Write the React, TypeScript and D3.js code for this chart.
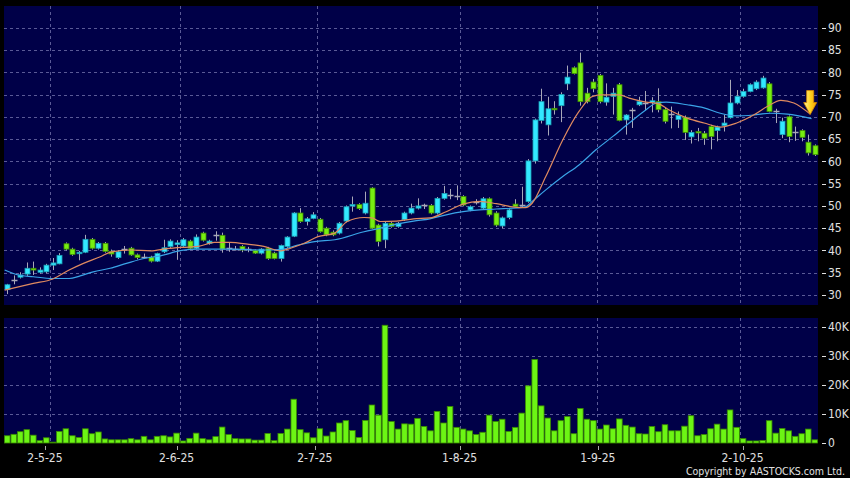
import React, { useEffect } from "react";
import * as d3 from "d3";

// ---------- data ----------
const opens = [31.2,33.4,34.0,34.7,36.0,35.1,35.2,36.7,37.0,41.5,40.3,39.3,39.6,42.5,40.5,41.6,39.8,38.4,40.3,40.5,39.0,38.6,38.5,37.6,39.7,
  40.9,41.3,41.0,42.1,40.5,43.9,41.6,43.5,43.4,40.5,40.4,40.9,40.3,40.0,39.4,40.5,39.4,38.2,40.9,43.2,48.4,46.5,47.2,47.0,45.0,
  44.1,43.9,46.6,50.0,50.3,48.4,54.0,45.7,42.4,46.1,45.4,46.9,48.4,49.5,50.1,50.1,48.4,51.7,52.5,52.1,52.1,49.1,50.8,49.5,51.6,
  48.4,45.5,47.4,50.4,50.2,51.0,60.1,69.2,68.2,71.9,72.5,77.4,81.0,82.1,75.3,77.8,79.3,73.3,74.6,77.2,69.3,71.6,72.7,73.0,73.2,
  73.4,71.6,70.6,69.4,69.9,65.5,66.7,66.3,67.8,66.9,68.0,69.8,73.1,74.6,75.7,76.3,76.5,77.4,71.2,66.0,70.0,66.7,66.9,64.3,63.5];
const highs = [32.5,34.4,35.1,37.3,37.5,36.2,37.0,38.3,39.4,41.8,40.6,39.9,43.5,42.8,41.9,41.9,40.2,40.0,41.0,40.8,39.3,39.3,38.8,39.5,42.4,
  42.5,42.3,42.8,42.4,43.6,44.2,42.4,44.3,44.0,41.8,41.0,41.2,40.8,40.2,40.5,40.8,39.7,41.3,43.2,48.6,49.5,47.5,48.6,47.3,45.3,
  44.5,46.4,50.1,52.1,50.6,53.2,54.2,46.0,46.4,46.4,46.4,48.7,50.5,51.7,50.5,50.4,52.0,54.5,53.8,54.6,52.4,50.1,51.5,52.0,51.9,
  48.8,47.6,49.4,51.5,54.3,60.5,69.6,76.3,74.5,73.5,75.5,81.5,81.3,84.4,76.5,78.5,79.6,77.5,76.5,77.6,70.6,72.0,74.5,75.8,74.4,
  76.4,72.0,72.3,71.2,70.3,67.0,67.5,66.8,68.2,68.0,70.5,78.3,76.0,76.3,77.5,78.2,79.2,77.8,71.8,69.8,70.3,67.8,67.2,66.0,63.8];
const lows = [30.2,32.4,33.7,34.3,34.5,34.8,34.9,35.6,36.9,40.0,38.8,37.8,39.4,40.2,40.2,39.5,38.6,38.1,39.3,38.8,38.0,38.2,37.3,37.4,39.4,
  40.6,37.9,40.8,40.2,40.3,42.0,41.3,42.2,39.5,39.7,40.0,39.6,39.6,39.2,39.1,37.9,38.0,37.5,40.6,43.0,46.2,45.6,47.0,44.0,43.2,
  43.2,43.6,46.3,48.7,49.1,48.1,44.8,40.9,40.5,45.1,45.1,46.6,48.1,49.2,49.3,48.1,48.1,51.4,51.5,51.3,49.9,48.8,50.3,49.2,47.6,
  45.3,45.0,47.0,49.8,49.8,50.7,59.5,68.5,65.8,70.5,68.8,76.0,79.5,72.5,73.0,75.5,73.0,72.5,70.5,69.0,66.0,67.5,72.4,71.5,71.0,
  71.0,68.5,67.4,67.5,64.8,64.0,64.5,63.7,62.7,64.5,66.7,69.6,72.8,74.3,75.5,76.0,76.3,71.0,68.6,65.2,64.3,64.6,64.5,61.3,61.2];
const closes = [32.3,33.4,34.5,36.0,35.6,35.6,36.7,37.2,38.9,40.3,39.1,39.6,42.5,40.5,41.6,39.8,39.2,39.7,40.3,39.0,38.4,38.6,37.6,39.3,40.6,
  42.1,41.7,42.4,40.5,43.0,42.3,42.1,43.5,40.3,40.5,40.4,40.1,40.3,39.4,40.3,38.2,38.2,41.1,43.0,48.4,46.5,47.1,48.0,44.2,43.5,
  43.5,46.1,49.8,50.3,49.4,50.6,45.0,42.0,46.1,45.4,46.1,48.4,49.5,50.0,50.1,48.4,51.7,52.8,52.5,52.2,50.2,49.8,50.8,51.6,48.0,
  45.7,47.3,49.1,49.9,50.2,60.1,69.3,73.4,71.8,71.7,75.0,78.9,79.7,73.4,73.4,76.3,73.4,74.4,75.3,69.2,70.4,71.6,73.4,73.0,73.6,
  71.6,69.0,70.6,70.3,66.5,66.5,66.5,65.2,65.6,67.7,68.6,73.1,74.6,75.7,77.2,77.8,78.7,71.2,71.2,69.0,65.6,66.7,65.4,61.9,61.5];
const volumesK = [2.5,3.0,3.9,4.6,2.7,0.8,1.8,0.3,4.0,4.9,2.5,1.9,4.9,3.2,3.8,1.4,1.1,1.1,1.1,1.5,1.1,2.3,1.1,2.3,2.5,2.1,3.4,0.7,1.6,3.4,
  1.5,1.1,2.2,5.5,2.9,1.5,1.4,1.4,1.0,1.0,3.3,0.8,3.3,4.8,15.1,4.6,3.5,1.8,4.9,2.4,3.8,6.9,7.7,4.3,1.9,7.8,13.1,9.6,40.6,7.4,
  4.8,6.6,6.5,8.5,5.7,4.2,10.9,6.9,12.6,5.4,4.8,4.2,2.9,3.7,9.6,7.4,8.2,4.0,5.4,10.3,19.7,28.8,12.8,8.6,4.2,7.7,9.1,3.2,11.9,8.2,
  7.7,4.8,6.2,4.9,8.3,6.1,5.5,3.2,3.1,5.7,3.9,6.3,4.2,4.2,5.8,9.4,2.5,2.9,4.9,6.5,4.8,11.4,5.4,1.5,0.7,0.7,0.9,7.7,3.4,5.0,4.2,2.3,3.2,4.8,1.1];

// moving averages: [bar index, value]
const maShort: [number, number][] = [[-0.4,31.1],[4,32.6],[7,33.6],[9.5,35.6],[11.7,37.1],[14.3,38.6],[16,39.7],[19,40.1],[22,39.9],[24.5,40.4],
  [27,40.7],[29.3,40.9],[31.8,41.8],[34.3,41.8],[36.9,41.4],[39.4,40.9],[42,39.9],[43.5,40.5],[45.6,41.6],[47.7,43.1],[50.3,43.9],
  [52.2,46.5],[54.8,47.4],[56,47.3],[57.3,46.5],[59.8,46.6],[62.4,47.1],[64.9,47.3],[67.4,48.7],[70,50.4],[72.5,51.0],[75.1,50.5],
  [77.6,49.8],[79.6,49.6],[80.6,50.6],[82.7,56.6],[85.3,64.8],[87.8,71.2],[89.9,74.6],[91.4,74.9],[94,74.9],[95.5,74.2],[98.1,73.3],
  [100,72.9],[101.8,71.4],[104.4,69.7],[107,68.6],[109.5,67.7],[112,68.6],[114.6,70.4],[116.7,72.3],[118.8,73.7],[120.8,73.1],[123.3,70.6]];
const maLong: [number, number][] = [[-0.4,35.6],[1.4,34.6],[4,34.1],[7,33.7],[9.5,33.7],[11.2,34.3],[13.2,35.2],[15.8,36.0],[18.3,37.1],
  [21,38.2],[23.5,38.8],[26.8,40.0],[29.3,40.3],[34.3,40.3],[39.4,40.1],[42,40.2],[44.6,41.2],[47.2,42.0],[50.3,42.4],[54.8,44.2],
  [57.3,45.0],[59.8,45.9],[62.4,46.6],[64.9,47.1],[67.4,48.0],[70,48.7],[72.5,49.1],[75.1,49.3],[79.6,49.8],[80.6,51.0],[82.7,53.6],
  [85.3,56.6],[87.8,59.2],[90.4,62.6],[93,65.6],[95.5,68.6],[98.1,71.6],[99.7,73.1],[101.2,73.3],[104.4,72.7],[107,72.0],[109.5,70.8],
  [112,70.2],[114.6,70.4],[117.2,70.8],[119.8,70.6],[123.5,69.6]];

const priceTicks = [30,35,40,45,50,55,60,65,70,75,80,85,90];
const volTicks = [0,10,20,30,40];
const volTickLabels = ["0","10K","20K","30K","40K"];
const dateIdx = [6,26,47,69,90,112];
const dateLabels = ["2-5-25","2-6-25","2-7-25","1-8-25","1-9-25","2-10-25"];
const arrowAt = { index: 123.3, price: 70.5 };

// ---------- styles ----------
const BG = "#000048";
const GRID = "#5a5a96";
const UP = "#33e8ff", UP_S = "#1a9fb5";
const DN = "#77ee11", DN_S = "#3f8f00";
const WICK = "#a8a8b8";
const TXT = "#e0e0e0";
const FONT = "'DejaVu Sans', sans-serif";

export default function App() {
  useEffect(() => { document.body.style.margin = "0"; document.body.style.background = "#000"; }, []);
  const W = 850, H = 478;
  const L = 4, R = 818;
  const pTop = 6, pBot = 305, vTop = 318, vBot = 443;
  const n = closes.length;
  const x = d3.scaleLinear().domain([-0.5, n - 0.5]).range([L, R]);
  const xl = d3.scaleLinear().domain([0, n - 1]).range([5.5, 821.5]);
  const y = d3.scaleLinear().domain([30, 90]).range([295, 27.7]);
  const yv = d3.scaleLinear().domain([0, 40]).range([vBot, 327]);
  const bw = 5;
  const line = d3.line<[number, number]>().x(d => x(d[0])).y(d => y(d[1])).curve(d3.curveMonotoneX);

  const ax = x(arrowAt.index), ay = y(arrowAt.price);

  return (
    <svg width={W} height={H} style={{ display: "block", position: "absolute", left: 0, top: 0, background: "#000" }}
      fontFamily={FONT}>
      <defs>
        <linearGradient id="arr" x1="0" x2="1" y1="0" y2="0">
          <stop offset="0" stopColor="#fff3a0" />
          <stop offset="0.5" stopColor="#ffd21f" />
          <stop offset="1" stopColor="#f0a000" />
        </linearGradient>
      </defs>
      <rect x={0} y={0} width={W} height={H} fill="#000" />
      <rect x={L} y={pTop} width={R - L} height={pBot - pTop} fill={BG} />
      <rect x={L} y={vTop} width={R - L} height={vBot - vTop} fill={BG} />

      {/* price grid */}
      {priceTicks.map(t => (
        <g key={"pg" + t}>
          <line x1={L} x2={R} y1={Math.round(y(t)) + 0.5} y2={Math.round(y(t)) + 0.5} stroke={GRID} strokeDasharray="3,3" />
          <line x1={R + 4} x2={R + 8} y1={Math.round(y(t)) + 0.5} y2={Math.round(y(t)) + 0.5} stroke={TXT} />
          <text x={R + 10} y={y(t)} dy="0.36em" fill={TXT} fontSize={12} style={{ fontStretch: "condensed" }}>{t}</text>
        </g>
      ))}
      {dateIdx.map(i => (
        <g key={"vg" + i}>
          <line x1={Math.round(x(i + 0.5)) + 0.5} x2={Math.round(x(i + 0.5)) + 0.5} y1={pTop} y2={pBot} stroke={GRID} strokeDasharray="3,3" />
          <line x1={Math.round(x(i + 0.5)) + 0.5} x2={Math.round(x(i + 0.5)) + 0.5} y1={vTop} y2={vBot} stroke={GRID} strokeDasharray="3,3" />
        </g>
      ))}

      {/* volume grid */}
      {volTicks.map((t, k) => (
        <g key={"vt" + t}>
          {t > 0 && <line x1={L} x2={R} y1={Math.round(yv(t)) + 0.5} y2={Math.round(yv(t)) + 0.5} stroke={GRID} strokeDasharray="3,3" />}
          <line x1={R + 4} x2={R + 8} y1={Math.round(yv(t)) + 0.5} y2={Math.round(yv(t)) + 0.5} stroke={TXT} />
          <text x={R + 10} y={yv(t)} dy="0.36em" fill={TXT} fontSize={12} style={{ fontStretch: "condensed" }}>{volTickLabels[k]}</text>
        </g>
      ))}

      {/* candles */}
      {closes.map((c, i) => {
        const o = opens[i];
        const cx = Math.round(x(i)) + 0.5;
        const top = y(Math.max(o, c)), bot = y(Math.min(o, c));
        const up = c > o, flat = Math.abs(c - o) < 0.15;
        return (
          <g key={"c" + i}>
            <line x1={cx} x2={cx} y1={y(highs[i])} y2={y(lows[i])} stroke={WICK} strokeWidth={1} />
            {flat ? (
              <line x1={cx - bw / 2 - 0.5} x2={cx + bw / 2 + 0.5} y1={Math.round(y(c)) + 0.5} y2={Math.round(y(c)) + 0.5} stroke={WICK} strokeWidth={1.5} />
            ) : (
              <rect x={cx - bw / 2} y={top} width={bw} height={Math.max(1.5, bot - top)}
                fill={up ? UP : DN} stroke={up ? UP_S : DN_S} strokeWidth={0.8} />
            )}
          </g>
        );
      })}

      {/* moving averages */}
      <path d={line(maLong) || ""} fill="none" stroke="#3aa4e8" strokeWidth={1.2} />
      <path d={line(maShort) || ""} fill="none" stroke="#e08a60" strokeWidth={1.2} />

      {/* arrow */}
      <path d={`M${ax - 3.5},${ay - 24} L${ax + 3.5},${ay - 24} L${ax + 3.5},${ay - 12} L${ax + 6.5},${ay - 12} L${ax},${ay} L${ax - 6.5},${ay - 12} L${ax - 3.5},${ay - 12} Z`}
        fill="url(#arr)" stroke="#d88a00" strokeWidth={0.8} />

      {/* volume */}
      {volumesK.map((v, i) => (
        <rect key={"v" + i} x={x(i) - 2.8} y={yv(v)} width={5.6} height={Math.max(0.5, vBot - yv(v))}
          fill="#6cf514" stroke="#3a8a00" strokeWidth={0.8} />
      ))}

      {/* date axis */}
      {dateIdx.map((i, k) => (
        <g key={"d" + i}>
          <line x1={Math.round(xl(i)) + 0.5} x2={Math.round(xl(i)) + 0.5} y1={446} y2={450} stroke="#aaaaaa" />
          <text x={xl(i)} y={462} textAnchor="middle" fill={TXT} fontSize={12} style={{ fontStretch: "condensed" }}>{dateLabels[k]}</text>
        </g>
      ))}
      <text x={845} y={475} textAnchor="end" fill={TXT} fontSize={10.5} style={{ fontStretch: "condensed" }}>Copyright by AASTOCKS.com Ltd.</text>
    </svg>
  );
}
